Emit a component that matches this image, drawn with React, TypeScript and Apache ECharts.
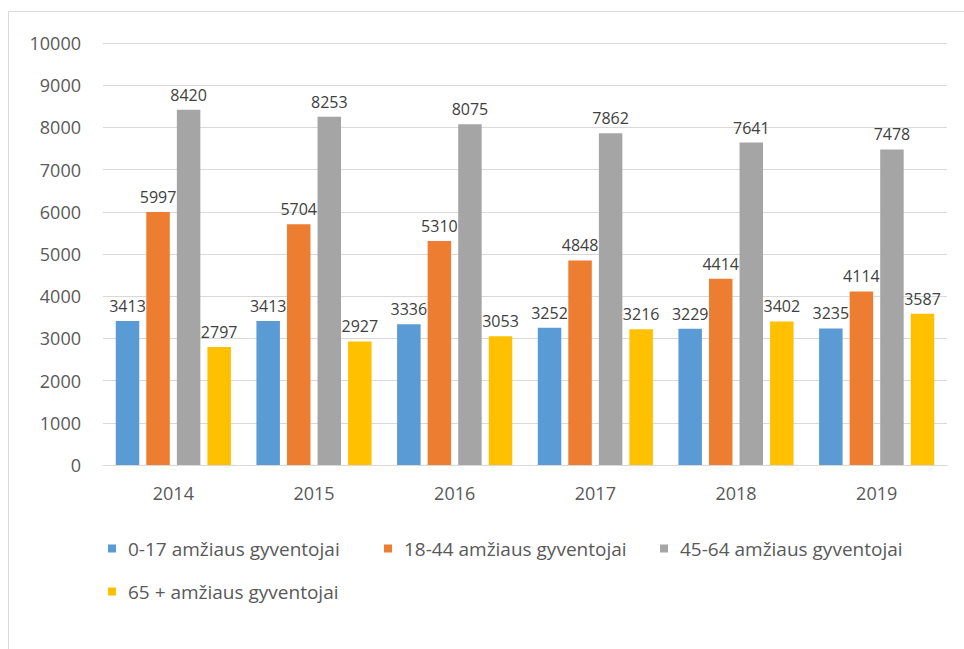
import React, { useEffect, useRef } from "react";
import * as echarts from "echarts";

const years = ["2014", "2015", "2016", "2017", "2018", "2019"];
const seriesNames = [
  "0-17 amžiaus gyventojai",
  "18-44 amžiaus gyventojai",
  "45-64 amžiaus gyventojai",
  "65 + amžiaus gyventojai",
];
const age0_17 = [3413, 3413, 3336, 3252, 3229, 3235];
const age18_44 = [5997, 5704, 5310, 4848, 4414, 4114];
const age45_64 = [8420, 8253, 8075, 7862, 7641, 7478];
const age65 = [2797, 2927, 3053, 3216, 3402, 3587];
const colors = ["#5B9BD5", "#ED7D31", "#A5A5A5", "#FFC000"];

export default function App() {
  const ref = useRef<HTMLDivElement>(null);
  useEffect(() => {
    if (!ref.current) return;
    const chart = echarts.init(ref.current, null, { renderer: "svg" });
    const font = "Open Sans";
    const data = [age0_17, age18_44, age45_64, age65];
    chart.setOption({
      animation: false,
      color: colors,
      textStyle: { fontFamily: font },
      grid: { left: 95, right: 17, top: 32, bottom: 184 },
      legend: {
        left: 95,
        top: 521,
        width: 850,
        itemWidth: 8,
        itemHeight: 8,
        itemGap: 20,
        icon: "rect",
        textStyle: {
          fontSize: 19,
          color: "#595959",
          fontFamily: font,
          width: 236,
          lineHeight: 23,
          padding: [0, 0, 0, 7],
        },
        data: seriesNames,
      },
      xAxis: {
        type: "category",
        data: years,
        axisTick: { show: false },
        axisLine: { lineStyle: { color: "#D9D9D9" } },
        axisLabel: { fontSize: 18, color: "#595959", margin: 19 },
      },
      yAxis: {
        type: "value",
        min: 0,
        max: 10000,
        interval: 1000,
        axisLabel: {
          fontSize: 18,
          color: "#595959",
          margin: 22,
          formatter: (v: number) => String(v),
        },
        splitLine: { lineStyle: { color: "#D9D9D9" } },
        axisLine: { show: false },
        axisTick: { show: false },
      },
      series: seriesNames.map((name, i) => ({
        name,
        type: "bar",
        data: data[i],
        barWidth: 23.5,
        barGap: "30%",
        label: {
          show: true,
          position: "top",
          fontSize: 16,
          color: "#404040",
          distance: 7,
        },
      })),
    });
    return () => chart.dispose();
  }, []);
  return (
    <div
      style={{
        position: "absolute",
        left: 8,
        top: 11,
        width: 956,
        height: 638,
        borderTop: "1px solid #D9D9D9",
        borderLeft: "1px solid #D9D9D9",
        boxSizing: "border-box",
        background: "#fff",
      }}
    >
      <div ref={ref} style={{ width: 956, height: 638, marginTop: -1, marginLeft: -1 }} />
    </div>
  );
}
